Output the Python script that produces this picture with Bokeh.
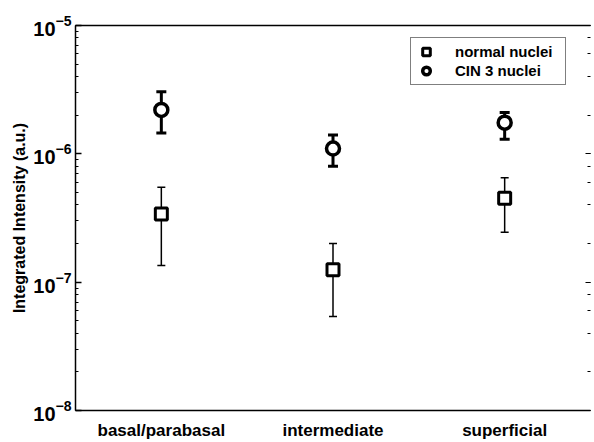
from bokeh.plotting import figure
from bokeh.models import (ColumnDataSource, Whisker, TeeHead, LogAxis, LinearAxis,
                          FixedTicker, Legend, LegendItem, Range1d, CustomJSTickFormatter)
from bokeh.embed import file_html
from bokeh.resources import INLINE

# ---- data ----
categories = ["basal/parabasal", "intermediate", "superficial"]
x_pos = [1, 2, 3]

normal_mean = [3.4e-7, 1.25e-7, 4.5e-7]
normal_upper = [5.5e-7, 2.0e-7, 6.5e-7]
normal_lower = [1.35e-7, 5.4e-8, 2.45e-7]

cin3_mean = [2.2e-6, 1.1e-6, 1.75e-6]
cin3_upper = [3.05e-6, 1.4e-6, 2.1e-6]
cin3_lower = [1.45e-6, 8.0e-7, 1.3e-6]

FONT = "Liberation Sans"

src_n = ColumnDataSource(dict(x=x_pos, y=normal_mean, up=normal_upper, lo=normal_lower))
src_c = ColumnDataSource(dict(x=x_pos, y=cin3_mean, up=cin3_upper, lo=cin3_lower))

p = figure(width=594, height=442, y_axis_type="log",
           x_range=Range1d(0.5, 3.5), y_range=Range1d(1e-8, 1e-5),
           output_backend="svg", toolbar_location=None,
           min_border_left=75, min_border_right=0, min_border_top=25, min_border_bottom=28)
p.outline_line_color = None
p.grid.visible = False
p.background_fill_color = "white"
p.border_fill_color = "white"

# left (log) axis
ya = p.yaxis[0]
ya.axis_line_width = 1.5
ya.major_tick_in = 6
ya.major_tick_out = 0
ya.minor_tick_in = 3
ya.minor_tick_out = 0
ya.major_tick_line_width = 1.5
ya.major_label_text_font = FONT
ya.major_label_text_font_style = "bold"
ya.major_label_text_font_size = "20px"
ya.major_label_text_color = "black"
ya.major_label_standoff = 4
ya.axis_label = "Integrated Intensity (a.u.)"
ya.axis_label_text_font = FONT
ya.axis_label_text_font_style = "bold"
ya.axis_label_text_font_size = "16px"
ya.axis_label_text_color = "black"
ya.axis_label_standoff = 2

# bottom axis
xa = p.xaxis[0]
xa.ticker = FixedTicker(ticks=x_pos)
xa.major_label_overrides = {x: c for x, c in zip(x_pos, categories)}
xa.axis_line_width = 1.5
xa.major_tick_line_color = None
xa.minor_tick_line_color = None
xa.major_label_text_font = FONT
xa.major_label_text_font_style = "bold"
xa.major_label_text_font_size = "17px"
xa.major_label_text_color = "black"
xa.major_label_standoff = 4

# top border
top = LinearAxis(ticker=FixedTicker(ticks=[]), axis_line_width=1.5,
                 major_tick_line_color=None, minor_tick_line_color=None)
p.add_layout(top, "above")

# right axis with inward ticks only
ra = LogAxis(axis_line_color=None, major_tick_in=5, major_tick_out=0,
             minor_tick_in=3, minor_tick_out=0,
             formatter=CustomJSTickFormatter(code="return ' '"),
             major_label_standoff=0, major_label_text_font_size="4px",
             major_tick_line_width=1.2)
p.add_layout(ra, "right")

# error bars
p.add_layout(Whisker(source=src_n, base="x", upper="up", lower="lo",
                     line_width=1.5, line_color="black",
                     upper_head=TeeHead(size=8, line_width=1.5),
                     lower_head=TeeHead(size=8, line_width=1.5)))
p.add_layout(Whisker(source=src_c, base="x", upper="up", lower="lo",
                     line_width=3, line_color="black",
                     upper_head=TeeHead(size=10, line_width=3),
                     lower_head=TeeHead(size=10, line_width=3)))

r_n = p.scatter("x", "y", source=src_n, marker="square", size=12,
                line_color="black", line_width=3, fill_color="white")
r_c = p.scatter("x", "y", source=src_c, marker="circle", size=13,
                line_color="black", line_width=3.5, fill_color="white")

legend = Legend(items=[LegendItem(label="normal nuclei", renderers=[r_n]),
                       LegendItem(label="CIN 3 nuclei", renderers=[r_c])],
                location=(335, 325), padding=4, spacing=0,
                label_height=19, glyph_height=19, glyph_width=22,
                label_standoff=18, label_width=106,
                label_text_font=FONT, label_text_font_style="bold",
                label_text_font_size="15px", label_text_color="black",
                border_line_color="black", border_line_width=1.5,
                background_fill_color="white", background_fill_alpha=1.0)
p.add_layout(legend, "center")

open("out.html", "w").write(file_html(p, INLINE))
